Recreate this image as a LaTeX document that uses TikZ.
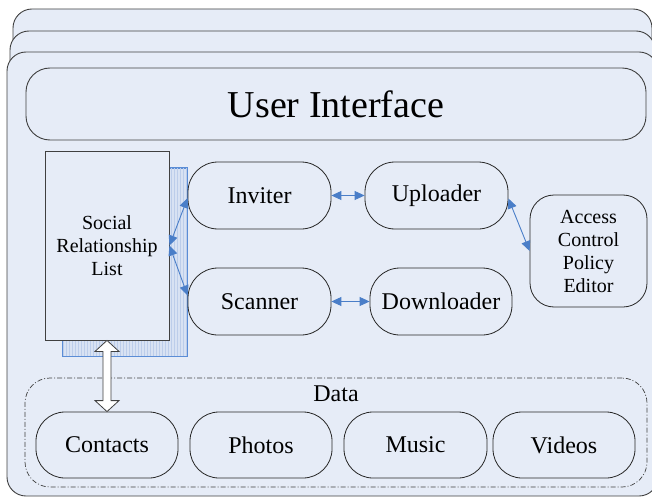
\documentclass[tikz,border=0pt]{standalone}
\usepackage{fontspec}
\setmainfont{Liberation Serif}
\usetikzlibrary{arrows.meta,patterns,calc}
\definecolor{bgfill}{HTML}{E6ECF7}
\definecolor{edge}{HTML}{404040}
\definecolor{arrowblue}{HTML}{4A7EC8}
\definecolor{shadowfill}{HTML}{D8E2F3}
\definecolor{shadowhatch}{HTML}{BCCDEA}
\definecolor{shadowline}{HTML}{5B8DD6}
\begin{document}
\begin{tikzpicture}[x=1pt,y=-1pt,
  layer/.style={draw=edge, fill=bgfill, line width=0.9pt, rounded corners=19pt},
  pill/.style={draw=black!85, line width=0.8pt, rounded corners=30pt, minimum width=143pt, minimum height=67pt, font=\fontsize{24}{28}\selectfont, inner sep=0pt},
  databox/.style={pill, minimum width=142pt, minimum height=66pt, rounded corners=29pt},
  uibox/.style={draw=edge, line width=0.9pt, rounded corners=24pt, minimum width=620pt, minimum height=72pt, inner sep=0pt, font=\fontsize{38}{42}\selectfont},
  listbox/.style={draw=edge, fill=bgfill, line width=0.9pt, minimum width=124pt, minimum height=189pt, inner sep=0pt, align=center, font=\fontsize{20}{23}\selectfont},
  shadowbox/.style={draw=shadowline, fill=shadowfill, line width=0.8pt, minimum width=124pt, minimum height=188pt, inner sep=0pt},
  editorbox/.style={draw=black!85, line width=0.8pt, rounded corners=24pt, minimum width=117pt, minimum height=112pt, inner sep=0pt, align=center, font=\fontsize{20}{23}\selectfont},
  groupbox/.style={draw=edge, line width=0.7pt, rounded corners=25pt, dash pattern=on 5pt off 2pt on 1pt off 2pt, minimum width=622pt, minimum height=109pt, inner sep=0pt},
  link/.style={draw=arrowblue, line width=0.9pt, {Triangle[length=10pt,width=9pt]}-{Triangle[length=10pt,width=9pt]}},
  hollow/.style={draw=edge, fill=white, line width=0.8pt, line join=miter}
]
\useasboundingbox (0,0) rectangle (652,497);
\begin{scope}
\clip (0,0) rectangle (652,497);
\draw[layer] (13,9) rectangle (652,470);
\draw[layer] (10,31) rectangle (655,482);
\draw[layer] (7,52) rectangle (658,496);
\end{scope}

\node[uibox] (ui) at (336,104) {User Interface};

\node[shadowbox] (shadow) at (125,262) {};
\fill[pattern=vertical lines, pattern color=shadowhatch] (shadow.north west) rectangle (shadow.south east);
\draw[draw=shadowline, line width=0.8pt] (shadow.north west) rectangle (shadow.south east);
\node[listbox] (srl) at (107,245.5) {Social\\Relationship\\List};

\node[groupbox] (data) at (336,432.5) {};
\node[font=\fontsize{24}{28}\selectfont] (datalabel) at (336,394) {Data};

\node[pill] (inviter) at (259.5,195.5) {Inviter};
\node[pill] (scanner) at (259.5,301.5) {Scanner};
\node[pill] (uploader) at (436.5,195.5) {Uploader};
\node[pill, minimum width=142pt] (downloader) at (441,301.5) {Downloader};
\node[editorbox] (acpe) at (588.5,251) {Access\\Control\\Policy\\Editor};

\node[databox] (contacts) at (107,445) {Contacts};
\node[databox] (photos) at (261,445) {Photos};
\node[databox, minimum width=143pt] (music) at (415.5,445) {Music};
\node[databox] (videos) at (564,445) {Videos};

\draw[link] (srl.east) -- ([yshift=-2.5pt]inviter.west);
\draw[link] (srl.east) -- ([yshift=6pt]scanner.west);
\draw[link] (inviter.east) -- (uploader.west);
\draw[link] (scanner.east) -- (downloader.west);
\draw[link] ([yshift=-3pt]uploader.east) -- (acpe.west);

\coordinate (a1) at (srl.south);
\coordinate (a2) at (contacts.north);
\draw[hollow] (a1) -- ++(12,11) -- ++(-8,0) -- ($(a2)+(4,-11)$) -- ++(8,0) -- (a2) -- ++(-12,-11) -- ++(8,0) -- ($(a1)+(-4,11)$) -- ++(-8,0) -- cycle;
\end{tikzpicture}
\end{document}
